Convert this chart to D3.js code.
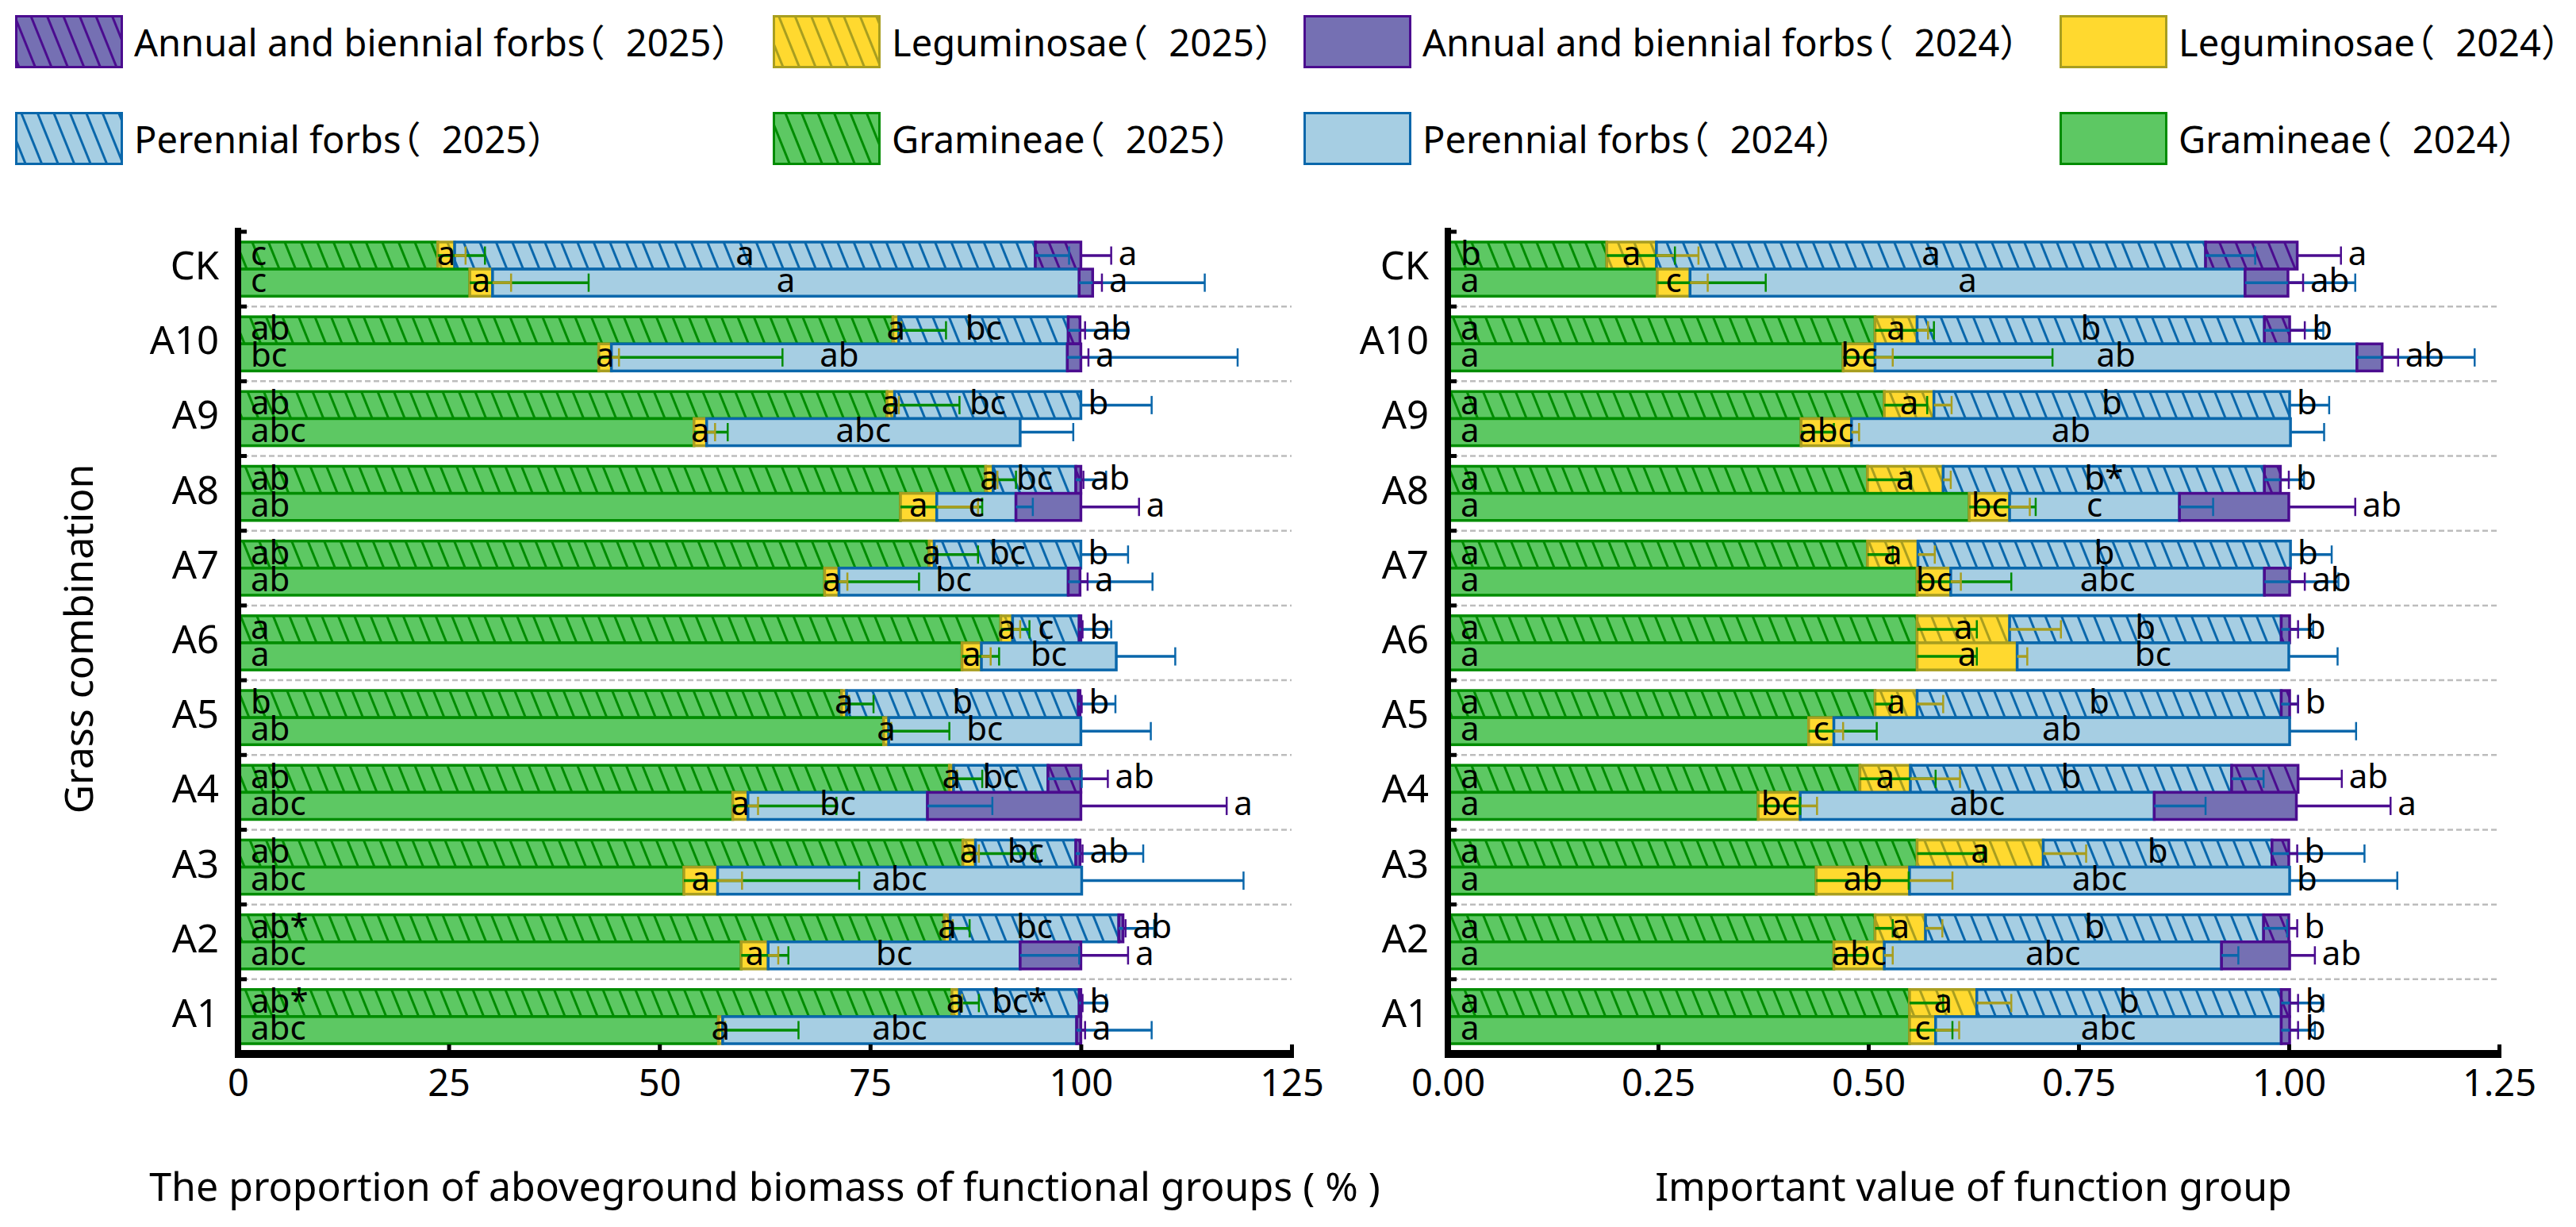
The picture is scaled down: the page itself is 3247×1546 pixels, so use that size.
<!DOCTYPE html>
<html>
<head>
<meta charset="utf-8">
<script src="https://cdn.jsdelivr.net/npm/d3@7"></script>
<style>
  html, body { margin: 0; padding: 0; background: #fff; }
  svg text { font-family: "Noto Sans", "Noto Sans CJK SC", sans-serif; fill: #000; }
</style>
</head>
<body>
<svg id="chart" width="3247" height="1546"></svg>
<script>
// ---------------- DATA ----------------
const categories = ["CK","A10","A9","A8","A7","A6","A5","A4","A3","A2","A1"];
const years = ["2025","2024"];

// Left panel: proportion of aboveground biomass (%)
const bio2025_G = [23.7, 77.7, 77.0, 88.7, 82.0, 90.5, 71.6, 84.4, 86.0, 83.8, 84.7];
const bio2025_L = [2.0, 0.7, 0.9, 0.9, 0.6, 1.4, 0.6, 0.5, 1.5, 0.7, 0.9];
const bio2025_P = [68.9, 20.1, 22.1, 9.8, 17.4, 7.9, 27.5, 11.2, 11.9, 20.0, 14.2];
const bio2025_A = [5.4, 1.4, 0, 0.6, 0, 0.2, 0.2, 3.9, 0.5, 0.5, 0.2];
const bioSD2025_G = [5.6, 6.3, 8.6, 3.6, 5.8, 3.4, 3.8, 3.9, 8.6, 3.0, 3.2];
const bioSD2025_L = [1.3, 0.3, 0.5, 0.5, 0.3, 0.9, 0.3, 0.4, 0.4, 0.3, 0.3];
const bioSD2025_P = [4.0, 7.0, 8.4, 3.6, 5.6, 3.8, 4.4, 4.0, 8.0, 4.2, 3.2];
const bioSD2025_A = [3.6, 0.6, 0, 0.3, 0, 0.2, 0.2, 3.2, 0.3, 0.3, 0.2];

const bio2024_G = [27.5, 42.8, 54.1, 78.6, 69.6, 85.9, 76.6, 58.7, 52.9, 59.7, 57.0];
const bio2024_L = [2.7, 1.5, 1.5, 4.3, 1.7, 2.3, 0.6, 1.8, 4.0, 3.2, 0.5];
const bio2024_P = [69.6, 54.1, 37.2, 9.4, 27.2, 16.0, 22.8, 21.3, 43.2, 29.9, 42.0];
const bio2024_A = [1.6, 1.6, 0, 7.7, 1.4, 0, 0, 18.2, 0, 7.2, 0.5];
const bioSD2024_G = [14.1, 21.8, 4.0, 9.7, 11.2, 4.4, 7.8, 12.3, 20.8, 5.6, 9.5];
const bioSD2024_L = [2.2, 0.9, 1.0, 4.9, 1.0, 1.1, 0.3, 1.2, 2.9, 1.2, 0.3];
const bioSD2024_P = [14.9, 20.2, 6.3, 2.0, 10.0, 7.0, 8.3, 7.7, 19.2, 7.0, 8.9];
const bioSD2024_A = [1.1, 0.9, 0, 6.9, 0.9, 0, 0, 17.3, 0, 5.6, 0.5];

const bioLab2025_G = ["c","ab","ab","ab","ab","a","b","ab","ab","ab*","ab*"];
const bioLab2025_L = ["a","a","a","a","a","a","a","a","a","a","a"];
const bioLab2025_P = ["a","bc","bc","bc","bc","c","b","bc","bc","bc","bc*"];
const bioLab2025_A = ["a","ab","b","ab","b","b","b","ab","ab","ab","b"];
const bioLab2024_G = ["c","bc","abc","ab","ab","a","ab","abc","abc","abc","abc"];
const bioLab2024_L = ["a","a","a","a","a","a","a","a","a","a","a"];
const bioLab2024_P = ["a","ab","abc","c","bc","bc","bc","bc","abc","bc","abc"];
const bioLab2024_A = ["a","a","","a","a","","","a","","a","a"];

// Right panel: important value of function group
const iv2025_G = [0.189, 0.508, 0.519, 0.499, 0.499, 0.558, 0.508, 0.490, 0.558, 0.508, 0.549];
const iv2025_L = [0.059, 0.050, 0.059, 0.090, 0.060, 0.110, 0.050, 0.060, 0.150, 0.060, 0.080];
const iv2025_P = [0.653, 0.413, 0.423, 0.382, 0.443, 0.323, 0.433, 0.382, 0.272, 0.402, 0.362];
const iv2025_A = [0.109, 0.030, 0, 0.019, 0, 0.010, 0.010, 0.079, 0.020, 0.030, 0.010];
const ivSD2025_G = [0.081, 0.070, 0.051, 0.050, 0.030, 0.071, 0.020, 0.090, 0.079, 0.021, 0.040];
const ivSD2025_L = [0.050, 0.013, 0.021, 0.009, 0.020, 0.061, 0.031, 0.059, 0.051, 0.020, 0.041];
const ivSD2025_P = [0.059, 0.070, 0.047, 0.047, 0.049, 0.038, 0.020, 0.038, 0.110, 0.028, 0.050];
const ivSD2025_A = [0.052, 0.018, 0, 0.010, 0, 0.010, 0.010, 0.052, 0.010, 0.010, 0.010];

const iv2024_G = [0.249, 0.470, 0.420, 0.620, 0.558, 0.558, 0.429, 0.369, 0.438, 0.459, 0.549];
const iv2024_L = [0.039, 0.038, 0.060, 0.048, 0.040, 0.119, 0.030, 0.050, 0.111, 0.060, 0.031];
const iv2024_P = [0.660, 0.573, 0.522, 0.202, 0.373, 0.323, 0.542, 0.421, 0.452, 0.401, 0.411];
const iv2024_A = [0.051, 0.030, 0, 0.130, 0.030, 0, 0, 0.169, 0, 0.081, 0.010];
const ivSD2024_G = [0.129, 0.249, 0.039, 0.079, 0.112, 0.071, 0.081, 0.050, 0.110, 0.039, 0.051];
const ivSD2024_L = [0.021, 0.021, 0.009, 0.024, 0.012, 0.012, 0.011, 0.020, 0.051, 0.010, 0.028];
const ivSD2024_P = [0.131, 0.140, 0.040, 0.040, 0.088, 0.058, 0.079, 0.061, 0.128, 0.020, 0.040];
const ivSD2024_A = [0.018, 0.019, 0, 0.079, 0.018, 0, 0, 0.112, 0, 0.030, 0.010];

const ivLab2025_G = ["b","a","a","a","a","a","a","a","a","a","a"];
const ivLab2025_L = ["a","a","a","a","a","a","a","a","a","a","a"];
const ivLab2025_P = ["a","b","b","b*","b","b","b","b","b","b","b"];
const ivLab2025_A = ["a","b","b","b","b","b","b","ab","b","b","b"];
const ivLab2024_G = ["a","a","a","a","a","a","a","a","a","a","a"];
const ivLab2024_L = ["c","bc","abc","bc","bc","a","c","bc","ab","abc","c"];
const ivLab2024_P = ["a","ab","ab","c","abc","bc","ab","abc","abc","abc","abc"];
const ivLab2024_A = ["ab","ab","","ab","ab","","","a","b","ab","b"];

const bioTicks = [0, 25, 50, 75, 100, 125];
const ivTicks = [0, 0.25, 0.5, 0.75, 1.0, 1.25];

const legendItems = [
  ["A","2025"], ["L","2025"], ["A","2024"], ["L","2024"],
  ["P","2025"], ["G","2025"], ["P","2024"], ["G","2024"]
];
const legendLabels = {
  A: "Annual and biennial forbs", L: "Leguminosae", P: "Perennial forbs", G: "Gramineae"
};

// ---------------- STYLE ----------------
const fills = { G: "#5DC863", L: "#FFD92F", P: "#A6CEE3", A: "#7570B3" };
const strokes = { G: "#008C00", L: "#A89E20", P: "#0A67AB", A: "#4B0C8F" };
const keys = ["G","L","P","A"];

const svg = d3.select("#chart");
svg.append("rect").attr("width", 3247).attr("height", 1546).attr("fill", "#fff");
const defs = svg.append("defs");
keys.forEach(k => {
  const p = defs.append("pattern").attr("id", "hatch" + k)
    .attr("patternUnits", "userSpaceOnUse").attr("width", 19).attr("height", 19)
    .attr("patternTransform", "rotate(-22)");
  p.append("rect").attr("width", 19).attr("height", 19).attr("fill", fills[k]);
  p.append("line").attr("x1", 9.5).attr("x2", 9.5).attr("y1", -1).attr("y2", 20)
    .attr("stroke", strokes[k]).attr("stroke-width", 3);
});
const fillFor = (k, yr) => yr === "2025" ? `url(#hatch${k})` : fills[k];

// ---------------- PANELS ----------------
const yBand = d3.scaleBand().domain(categories).range([292, 1328]).paddingInner(0).paddingOuter(0);
const yYear = d3.scaleBand().domain(years).range([0, yBand.bandwidth()]).paddingInner(0).paddingOuter(0.38);
const axisY = 1328;

const panels = [
  {
    x0: 300, x1: 1628, max: 125, ticks: bioTicks, fmt: d => String(d),
    title: "The proportion of aboveground biomass of functional groups ( % )",
    vals: { "2025": { G: bio2025_G, L: bio2025_L, P: bio2025_P, A: bio2025_A },
            "2024": { G: bio2024_G, L: bio2024_L, P: bio2024_P, A: bio2024_A } },
    sds:  { "2025": { G: bioSD2025_G, L: bioSD2025_L, P: bioSD2025_P, A: bioSD2025_A },
            "2024": { G: bioSD2024_G, L: bioSD2024_L, P: bioSD2024_P, A: bioSD2024_A } },
    labs: { "2025": { G: bioLab2025_G, L: bioLab2025_L, P: bioLab2025_P, A: bioLab2025_A },
            "2024": { G: bioLab2024_G, L: bioLab2024_L, P: bioLab2024_P, A: bioLab2024_A } }
  },
  {
    x0: 1825, x1: 3150, max: 1.25, ticks: ivTicks, fmt: d3.format(".2f"),
    title: "Important value of function group",
    vals: { "2025": { G: iv2025_G, L: iv2025_L, P: iv2025_P, A: iv2025_A },
            "2024": { G: iv2024_G, L: iv2024_L, P: iv2024_P, A: iv2024_A } },
    sds:  { "2025": { G: ivSD2025_G, L: ivSD2025_L, P: ivSD2025_P, A: ivSD2025_A },
            "2024": { G: ivSD2024_G, L: ivSD2024_L, P: ivSD2024_P, A: ivSD2024_A } },
    labs: { "2025": { G: ivLab2025_G, L: ivLab2025_L, P: ivLab2025_P, A: ivLab2025_A },
            "2024": { G: ivLab2024_G, L: ivLab2024_L, P: ivLab2024_P, A: ivLab2024_A } }
  }
];

panels.forEach(pn => {
  const x = d3.scaleLinear().domain([0, pn.max]).range([pn.x0, pn.x1]);
  const g = svg.append("g");

  const segs = [];
  categories.forEach((c, i) => {
    years.forEach(yr => {
      let cum = 0;
      keys.forEach(k => {
        const v = pn.vals[yr][k][i];
        segs.push({ c, i, yr, k, start: cum, end: cum + v, v, sd: pn.sds[yr][k][i], lab: pn.labs[yr][k][i] });
        cum += v;
      });
    });
  });

  // separators
  const bounds = categories.slice(1).map(c => yBand(c));
  g.selectAll("line.sep").data(bounds).join("line")
    .attr("x1", pn.x0 + 6).attr("x2", pn.x1).attr("y1", d => d).attr("y2", d => d)
    .attr("stroke", "#BDBDBD").attr("stroke-width", 2.5).attr("stroke-dasharray", "7,4");

  // bars
  g.selectAll("rect.seg").data(segs.filter(s => s.v > 0)).join("rect")
    .attr("x", s => x(s.start)).attr("width", s => x(s.end) - x(s.start))
    .attr("y", s => yBand(s.c) + yYear(s.yr)).attr("height", yYear.bandwidth())
    .attr("fill", s => fillFor(s.k, s.yr))
    .attr("stroke", s => strokes[s.k]).attr("stroke-width", 3.5);

  // error bars (plus direction only)
  const errs = segs.filter(s => s.sd > 0);
  const ec = s => yBand(s.c) + yYear(s.yr) + yYear.bandwidth() / 2;
  g.selectAll("line.err").data(errs).join("line")
    .attr("x1", s => x(s.end)).attr("x2", s => x(s.end + s.sd))
    .attr("y1", ec).attr("y2", ec)
    .attr("stroke", s => strokes[s.k]).attr("stroke-width", 3.5);
  g.selectAll("line.cap").data(errs).join("line")
    .attr("x1", s => x(s.end + s.sd)).attr("x2", s => x(s.end + s.sd))
    .attr("y1", s => ec(s) - 11.5).attr("y2", s => ec(s) + 11.5)
    .attr("stroke", s => strokes[s.k]).attr("stroke-width", 2.5);

  // letter labels
  const labs = segs.filter(s => s.lab);
  g.selectAll("text.lab").data(labs).join("text")
    .attr("font-size", 42)
    .attr("x", s => {
      if (s.k === "G") return x(0) + 16;
      if (s.k === "A") return x(s.end + s.sd) + 9;
      return (x(s.start) + x(s.end)) / 2;
    })
    .attr("text-anchor", s => (s.k === "G" || s.k === "A") ? "start" : "middle")
    .attr("y", s => ec(s) + 12)
    .text(s => s.lab);

  // y axis
  g.append("line").attr("x1", pn.x0).attr("x2", pn.x0).attr("y1", 287).attr("y2", axisY + 5)
    .attr("stroke", "#000").attr("stroke-width", 8);
  const yt = [yBand(categories[0])].concat(bounds);
  g.selectAll("line.yt").data(yt).join("line")
    .attr("x1", pn.x0).attr("x2", pn.x0 + 11).attr("y1", d => d).attr("y2", d => d)
    .attr("stroke", "#000").attr("stroke-width", 5);
  g.selectAll("text.ylab").data(categories).join("text")
    .attr("x", pn.x0 - 24).attr("y", c => yBand(c) + yBand.bandwidth() / 2 + 13)
    .attr("text-anchor", "end").attr("font-size", 49).text(c => c);

  // x axis
  const xa = g.append("g").attr("transform", `translate(0,${axisY})`)
    .call(d3.axisBottom(x).tickValues(pn.ticks).tickFormat(pn.fmt).tickSize(-12).tickSizeOuter(0).tickPadding(20));
  xa.select(".domain").attr("stroke", "#000").attr("stroke-width", 10)
    .attr("d", `M${pn.x0 - 4},0H${pn.x1 + 3}`);
  xa.selectAll(".tick line").attr("stroke", "#000").attr("stroke-width", 5);
  xa.selectAll(".tick text").attr("font-size", 47).attr("font-family", "Noto Sans").attr("fill", "#000");

  // x title
  svg.append("text").attr("x", (pn.x0 + pn.x1) / 2).attr("y", 1513)
    .attr("text-anchor", "middle").attr("font-size", 50).text(pn.title);
});

// y title
svg.append("text").attr("transform", "translate(117,805) rotate(-90)")
  .attr("text-anchor", "middle").attr("font-size", 50).text("Grass combination");

// ---------------- LEGEND ----------------
const legX = [19, 974, 1643, 2596];
const legY = [19, 141];
const lg = svg.append("g");
legendItems.forEach(([k, yr], idx) => {
  const col = idx % 4, row = Math.floor(idx / 4);
  const bx = legX[col], by = legY[row];
  lg.append("rect").attr("x", bx + 1.5).attr("y", by + 1.5).attr("width", 133).attr("height", 64)
    .attr("fill", fillFor(k, yr)).attr("stroke", strokes[k]).attr("stroke-width", 3);
  const name = legendLabels[k];
  const str = `${name}（ ${yr}）`;
  // per-character shifts so the full-width bracket hugs the name like the reference
  const dx = Array.from(str).map((ch, j) => j === name.length ? -22 : (j === name.length + 1 ? 14 : 0));
  lg.append("text").attr("x", bx + 150).attr("y", by + 52).attr("font-size", 47)
    .attr("dx", dx.join(" ")).text(str);
});
</script>
</body>
</html>
